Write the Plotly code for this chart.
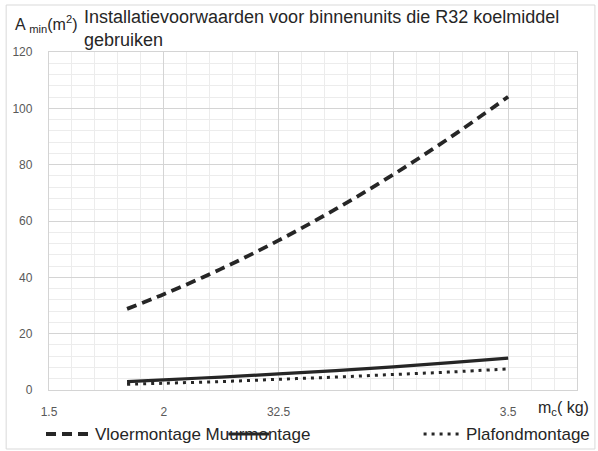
import plotly.graph_objects as go

# koelmiddelvulling m_c (kg) en minimale vloeroppervlakte A_min (m2)
mass_kg = [1.84, 2.0, 2.25, 2.5, 2.75, 3.0, 3.25, 3.5]
vloer = [28.8, 34.0, 43.0, 53.1, 64.3, 76.5, 89.8, 104.1]
muur = [3.0, 3.6, 4.6, 5.7, 6.9, 8.2, 9.7, 11.3]
plafond = [2.0, 2.4, 3.0, 3.8, 4.6, 5.5, 6.4, 7.5]

x_ticks = [1.5, 2, 2.5, 3, 3.5]
x_ticktext = ["1.5", "2", "32.5", "", "3.5"]
y_ticks = [0, 20, 40, 60, 80, 100, 120]

W, H = 598, 451
ML, MR, MT, MB = 47, 21, 52, 61
PW, PH = W - ML - MR, H - MT - MB


def px(x):
    # pixel -> paper x
    return (x - ML) / PW


def py(y):
    # pixel -> paper y
    return (H - MB - y) / PH


FONT = "Liberation Sans, Arial, sans-serif"
INK = "#262626"

fig = go.Figure()
fig.add_trace(go.Scatter(x=mass_kg, y=vloer, mode="lines", name="Vloermontage",
                         line=dict(color=INK, width=3.8, dash="10px,6px", shape="spline")))
fig.add_trace(go.Scatter(x=mass_kg, y=muur, mode="lines", name="Muurmontage",
                         line=dict(color=INK, width=3.2, shape="spline")))
fig.add_trace(go.Scatter(x=mass_kg, y=plafond, mode="lines", name="Plafondmontage",
                         line=dict(color=INK, width=3, dash="3px,5px", shape="spline")))

fig.update_layout(
    width=W, height=H,
    margin=dict(l=ML, r=MR, t=MT, b=MB),
    paper_bgcolor="white", plot_bgcolor="white",
    showlegend=False,
    font=dict(family=FONT, color=INK),
)
fig.update_xaxes(
    range=[1.5, 3.8], tickvals=x_ticks, ticktext=x_ticktext,
    tickfont=dict(size=12, color="#595959"), ticks="", ticklabelstandoff=10,
    showgrid=True, gridcolor="#d4d4d4", gridwidth=1.3,
    minor=dict(dtick=0.1, tick0=1.5, showgrid=True, gridcolor="#ececec", gridwidth=1),
    showline=True, mirror=True, linecolor="#d4d4d4", linewidth=1.3, zeroline=False,
)
fig.update_yaxes(
    range=[0, 120], tickvals=y_ticks,
    tickfont=dict(size=12, color="#595959"), ticks="", ticklabelstandoff=13,
    showgrid=True, gridcolor="#d4d4d4", gridwidth=1.3,
    minor=dict(dtick=4, tick0=0, showgrid=True, gridcolor="#ececec", gridwidth=1),
    showline=True, mirror=True, linecolor="#d4d4d4", linewidth=1.3, zeroline=False,
)

# titel en aslabels
fig.add_annotation(text="Installatievoorwaarden voor binnenunits die R32 koelmiddel<br>gebruiken",
                   xref="paper", yref="paper", x=px(80), y=py(5), xanchor="left", yanchor="top",
                   align="left", showarrow=False, font=dict(size=18, color=INK))
fig.add_annotation(text="A <sub>min</sub>(m<sup>2</sup>)",
                   xref="paper", yref="paper", x=px(11), y=py(24), xanchor="left", yanchor="middle",
                   showarrow=False, font=dict(size=16, color=INK))
fig.add_annotation(text="m<sub>c</sub>( kg)",
                   xref="paper", yref="paper", x=px(536), y=py(408), xanchor="left", yanchor="middle",
                   showarrow=False, font=dict(size=16, color=INK))

# legenda onderaan, handmatig zoals in het origineel
ly = py(434)
fig.add_shape(type="line", xref="paper", yref="paper", x0=px(44), x1=px(88), y0=ly, y1=ly,
              line=dict(color=INK, width=3.8, dash="10px,6px"))
fig.add_annotation(text="Vloermontage Muurmontage", xref="paper", yref="paper", x=px(91), y=ly,
                   xanchor="left", yanchor="middle", showarrow=False, font=dict(size=17, color=INK))
fig.add_shape(type="line", xref="paper", yref="paper", x0=px(227), x1=px(268), y0=ly, y1=ly,
              line=dict(color=INK, width=3))
fig.add_shape(type="line", xref="paper", yref="paper", x0=px(423), x1=px(462), y0=ly, y1=ly,
              line=dict(color=INK, width=3, dash="3px,5px"))
fig.add_annotation(text="Plafondmontage", xref="paper", yref="paper", x=px(464), y=ly,
                   xanchor="left", yanchor="middle", showarrow=False, font=dict(size=17, color=INK))

# lichte rand rond de hele grafiek
fig.add_shape(type="rect", xref="paper", yref="paper", x0=px(4), x1=px(595), y0=py(449), y1=py(5),
              line=dict(color="#d9d9d9", width=1))

fig.write_html("out.html", config={"displayModeBar": False},
               post_script="document.body.style.margin = '0';")
